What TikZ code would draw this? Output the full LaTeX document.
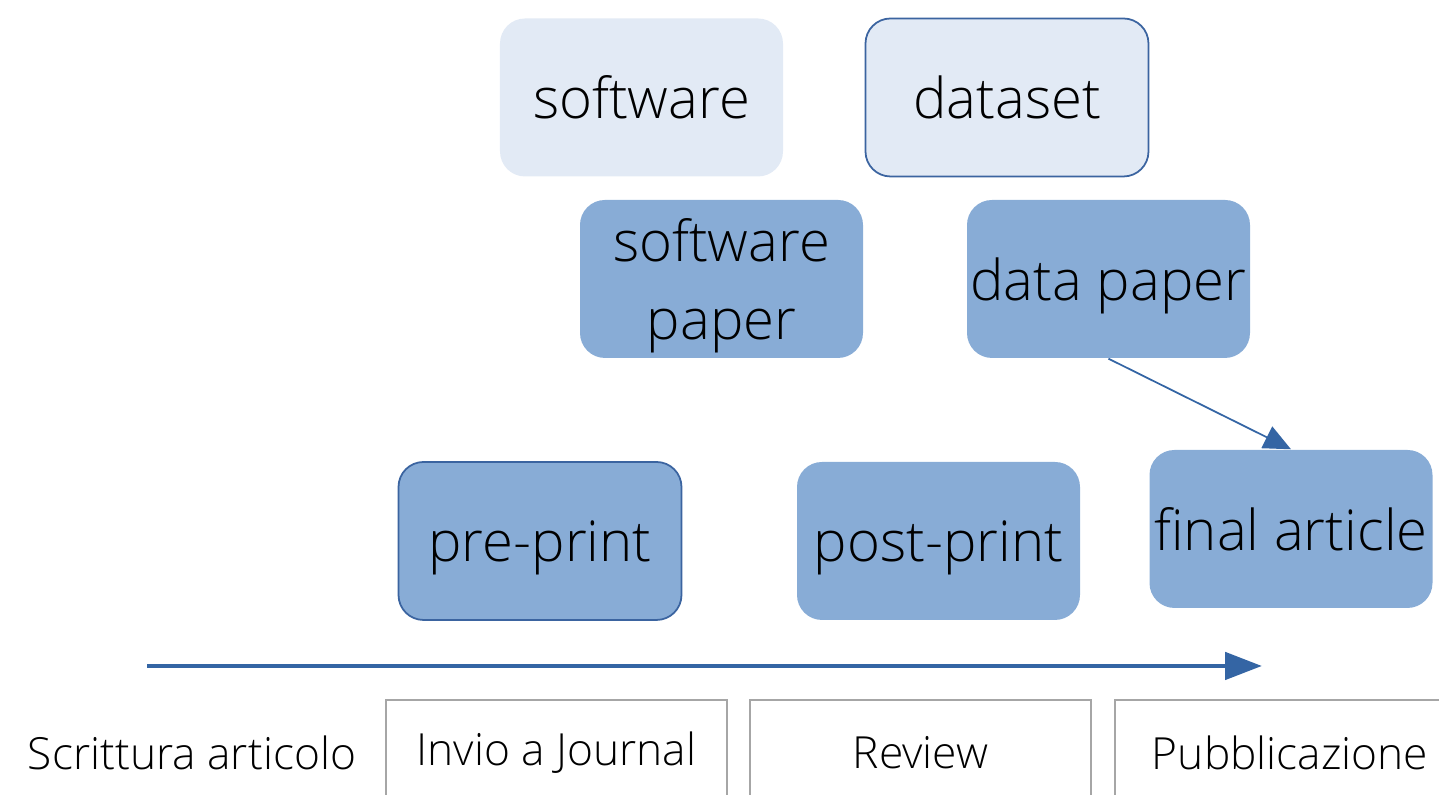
\documentclass[tikz,border=0pt]{standalone}
\usepackage{fontspec}
\setmainfont{Open Sans Light}
\usetikzlibrary{arrows.meta}

\definecolor{palebox}{HTML}{E2EAF5}
\definecolor{midbox}{HTML}{88ACD6}
\definecolor{boxline}{HTML}{3B64A0}
\definecolor{flowblue}{HTML}{3465A4}

\tikzset{
  outbox/.style={rounded corners=0.25cm, minimum width=2.83cm, minimum height=1.58cm,
    align=center, font=\fontsize{16}{22}\selectfont, inner sep=0pt, text depth=0pt},
  pale/.style={outbox, fill=palebox},
  solid/.style={outbox, fill=midbox},
  stagebox/.style={draw=gray!70, line width=0.4pt, minimum width=3.41cm, minimum height=1.06cm,
    font=\fontsize{12.6}{14}\selectfont, inner sep=0pt}
}

\begin{document}
\begin{tikzpicture}
\useasboundingbox (0,0) rectangle (14.39,7.95);
% outputs of the research
\node[pale] (software) at (6.415,6.975) {software};
\node[pale, draw=boxline, line width=0.5pt] (dataset) at (10.07,6.975) {dataset};
\node[solid] (softpaper) at (7.215,5.16) {software\\paper};
\node[solid] (datapaper) at (11.085,5.16) {data paper};
\node[solid, draw=boxline, line width=0.5pt] (preprint) at (5.40,2.54) {pre-print};
\node[solid] (postprint) at (9.385,2.54) {post-print};
\node[solid] (final) at (12.91,2.66) {final article};
\draw[flowblue, line width=0.5pt, -{Triangle[length=0.27cm,width=0.24cm]}] (datapaper.south) -- (final.north);
% time line
\coordinate (tstart) at (1.47,1.29);
\coordinate (tend) at (12.62,1.29);
\draw[flowblue, line width=1.4pt, -{Triangle[length=0.37cm,width=0.27cm]}] (tstart) -- (tend);
% phases
\node[font=\fontsize{12.6}{14}\selectfont] (write) at (1.92,0.42) {Scrittura articolo};
\node[stagebox] (submit) at (5.565,0.42) {Invio a Journal};
\node[stagebox] (review) at (9.205,0.42) {Review};
\node[stagebox, minimum width=3.5cm] (publish) at (12.90,0.42) {Pubblicazione};
\end{tikzpicture}
\end{document}
